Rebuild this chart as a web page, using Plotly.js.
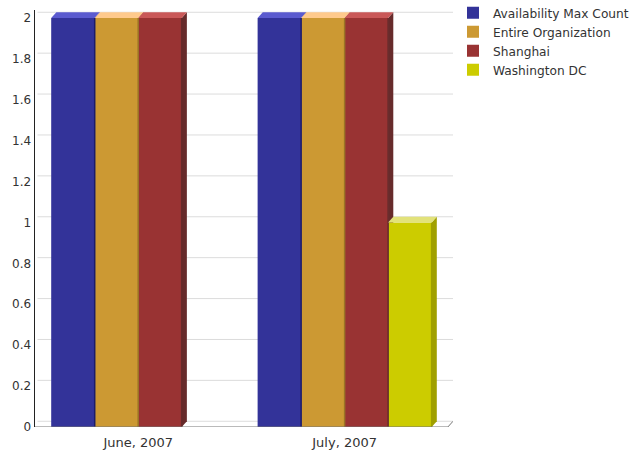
<!DOCTYPE html>
<html>
<head>
<meta charset="utf-8">
<script src="https://cdn.plot.ly/plotly-3.0.1.min.js"></script>
<style>html,body{margin:0;padding:0;background:#fff;}#chart{width:635px;height:453px;}</style>
</head>
<body>
<div id="chart"></div>
<script>
// Data
const categories = ['June, 2007', 'July, 2007'];
const seriesNames = ['Availability Max Count', 'Entire Organization', 'Shanghai', 'Washington DC'];
const availabilityMaxCount = [2, 2];
const entireOrganization = [2, 2];
const shanghai = [2, 2];
const washingtonDC = [0, 1];
const yTickVals = [0, 0.2, 0.4, 0.6, 0.8, 1, 1.2, 1.4, 1.6, 1.8, 2];

// Styles
const frontColors = ['#333399', '#CC9933', '#993333', '#CCCC00'];
const topColors = ['#5b5bcf', '#ffca8c', '#c95858', '#e2e27a'];
const sideColors = ['#1c1c6a', '#9a7426', '#672b2b', '#a0a000'];

const seriesValues = [availabilityMaxCount, entireOrganization, shanghai, washingtonDC];
const groupWidth = 0.843;
const barWidth = groupWidth / seriesValues.length;
const depthX = 0.025;
const depthY = 0.028;

const xIdx = categories.map((c, i) => i);
const traces = [];
const gridShapes = [];
const sideShapes = [];
const topShapes = [];
const edgeShapes = [];

// back-wall grid lines
yTickVals.forEach(v => {
  gridShapes.push({type: 'line', xref: 'paper', yref: 'y', layer: 'below',
    x0: 0.006, x1: 1, y0: v + depthY, y1: v + depthY,
    line: {color: '#dcdcdc', width: 1}});
});

seriesValues.forEach((vals, s) => {
  const offset = -groupWidth / 2 + s * barWidth;
  traces.push({
    type: 'bar',
    name: seriesNames[s],
    x: xIdx,
    y: vals,
    offset: offset,
    width: barWidth,
    marker: {color: frontColors[s], line: {width: 0}},
    hoverinfo: 'name+y'
  });
  vals.forEach((v, j) => {
    if (v <= 0) return;
    const l = j + offset, r = l + barWidth;
    topShapes.push({
      type: 'path', xref: 'x', yref: 'y', layer: 'above',
      path: `M${l},${v} L${l + depthX},${v + depthY} L${r + depthX},${v + depthY} L${r},${v} Z`,
      fillcolor: topColors[s], line: {width: 0}
    });
    sideShapes.push({
      type: 'path', xref: 'x', yref: 'y', layer: 'below',
      path: `M${r},${v} L${r + depthX},${v + depthY} L${r + depthX},${depthY} L${r},0 Z`,
      fillcolor: sideColors[s], line: {width: 0}
    });
    edgeShapes.push({
      type: 'line', xref: 'x', yref: 'y', layer: 'above',
      x0: r, x1: r, y0: 0, y1: v,
      line: {color: sideColors[s], width: 1.5}
    });
  });
});

// floor
const floorShapes = [
  {type: 'line', xref: 'x', yref: 'y', layer: 'above',
   x0: -0.5, x1: 1.5, y0: 0, y1: 0, line: {color: '#777777', width: 1.2}},
  {type: 'line', xref: 'x', yref: 'y', layer: 'above',
   x0: 1.5, x1: 1.5 + depthX, y0: 0, y1: depthY, line: {color: '#777777', width: 1}}
];

const layout = {
  width: 635, height: 453,
  margin: {l: 35, r: 182, t: 10, b: 26, autoexpand: false},
  paper_bgcolor: '#ffffff', plot_bgcolor: '#ffffff',
  font: {family: 'DejaVu Sans', size: 12, color: '#333333'},
  showlegend: true,
  barmode: 'group',
  xaxis: {
    type: 'linear', range: [-0.5, 1.5 + depthX],
    tickvals: xIdx, ticktext: categories,
    showgrid: false, zeroline: false, showline: false,
    ticks: '', ticklabelstandoff: 6,
    tickfont: {size: 13, color: '#333333'}, fixedrange: true
  },
  yaxis: {
    range: [0, 2.039], tickvals: yTickVals,
    ticktext: yTickVals.map(v => String(v)),
    showgrid: false, zeroline: false,
    showline: true, linecolor: '#222222', linewidth: 1.5,
    ticks: '', tickfont: {size: 12, color: '#333333'}, fixedrange: true
  },
  legend: {
    x: 1.0, y: 1.028, xanchor: 'left', yanchor: 'top',
    font: {size: 12.2, color: '#333333'},
    bgcolor: 'rgba(0,0,0,0)', tracegroupgap: 0
  },
  shapes: gridShapes.concat(sideShapes, edgeShapes, topShapes, floorShapes)
};

Plotly.newPlot('chart', traces, layout, {displayModeBar: false, staticPlot: true});
</script>
</body>
</html>
